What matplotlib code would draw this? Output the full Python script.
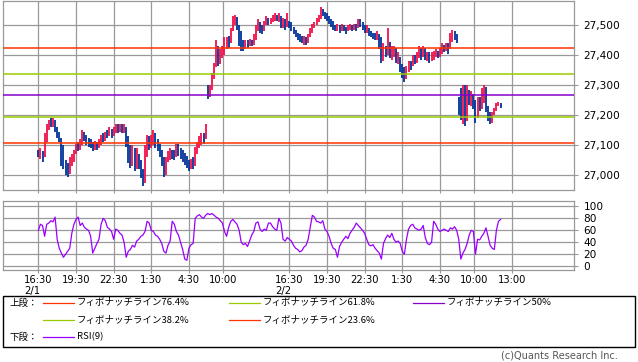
import numpy as np
import matplotlib.pyplot as plt
from matplotlib.lines import Line2D
from matplotlib.patches import Rectangle

# 10-minute bars, one list per trading session
# night 2/1 16:30-6:00, day 8:45-15:15, night 2/2 16:30-6:00, day 8:45-
close_n1 = [27070, 27080, 27060, 27110, 27150, 27175, 27170, 27185, 27160, 27140,
            27125, 27100, 27040, 27020, 27005, 27035, 27060, 27075, 27095, 27090,
            27105, 27140, 27130, 27115, 27110, 27100, 27090, 27105, 27095, 27110,
            27130, 27120, 27140, 27135, 27150, 27140, 27145, 27160, 27150, 27165,
            27155, 27160, 27130, 27080, 27050, 27090, 27020, 27060, 27050, 27010,
            26975, 27070, 27120, 27100, 27110, 27130, 27110, 27100, 27080, 27045,
            27005, 27050, 27060, 27075, 27070, 27065, 27095, 27080, 27070, 27060,
            27050, 27040, 27025, 27040, 27035, 27080, 27095, 27110, 27125, 27120,
            27165]
high_n1 = [27085, 27090, 27080, 27140, 27170, 27185, 27190, 27190, 27180, 27160,
           27145, 27125, 27080, 27050, 27040, 27060, 27070, 27085, 27105, 27110,
           27120, 27150, 27145, 27135, 27125, 27120, 27110, 27115, 27110, 27120,
           27135, 27140, 27145, 27150, 27160, 27155, 27160, 27170, 27170, 27170,
           27170, 27170, 27150, 27120, 27100, 27100, 27080, 27090, 27070, 27050,
           27020, 27100, 27135, 27130, 27135, 27150, 27140, 27120, 27105, 27085,
           27060, 27060, 27080, 27090, 27085, 27085, 27105, 27105, 27090, 27085,
           27075, 27065, 27050, 27055, 27060, 27095, 27110, 27130, 27140, 27140,
           27170]
low_n1 = [27060, 27055, 27045, 27060, 27110, 27150, 27160, 27160, 27145, 27125,
          27110, 27030, 27020, 27000, 26995, 27005, 27030, 27045, 27070, 27080,
          27085, 27100, 27115, 27100, 27095, 27090, 27080, 27085, 27085, 27090,
          27100, 27110, 27115, 27125, 27130, 27125, 27130, 27140, 27140, 27145,
          27140, 27140, 27094, 27040, 27025, 27030, 27015, 27030, 27020, 26990,
          26965, 26990, 27060, 27085, 27090, 27100, 27090, 27080, 27060, 27030,
          26995, 27000, 27045, 27050, 27055, 27050, 27060, 27065, 27055, 27045,
          27035, 27025, 27015, 27020, 27020, 27030, 27070, 27090, 27100, 27105,
          27120]

close_d1 = [27265, 27290, 27330, 27370, 27410, 27370, 27400, 27400, 27430, 27445,
            27440, 27480, 27510, 27525, 27500, 27480, 27440, 27425, 27440, 27435,
            27445, 27440, 27450, 27490, 27510, 27490, 27480, 27500, 27520, 27510,
            27515, 27525, 27530, 27525, 27530, 27500, 27520, 27495, 27510]
high_d1 = [27300, 27300, 27340, 27375, 27450, 27430, 27420, 27430, 27460, 27460,
           27465, 27490, 27530, 27535, 27528, 27500, 27470, 27450, 27450, 27450,
           27455, 27450, 27470, 27500, 27520, 27510, 27500, 27515, 27530, 27525,
           27525, 27535, 27540, 27535, 27540, 27525, 27525, 27515, 27540]
low_d1 = [27255, 27260, 27285, 27320, 27360, 27365, 27370, 27390, 27415, 27420,
          27425, 27440, 27485, 27500, 27483, 27430, 27415, 27415, 27420, 27425,
          27430, 27430, 27435, 27450, 27480, 27475, 27470, 27485, 27500, 27500,
          27505, 27510, 27515, 27515, 27510, 27490, 27490, 27485, 27500]

close_n2 = [27500, 27490, 27480, 27470, 27460, 27455, 27445, 27450, 27440, 27460,
            27480, 27495, 27500, 27515, 27525, 27550, 27540, 27530, 27525, 27520,
            27510, 27495, 27490, 27495, 27485, 27495, 27490, 27480, 27490, 27495,
            27485, 27495, 27490, 27510, 27505, 27495, 27480, 27490, 27475, 27470,
            27465, 27460, 27470, 27455, 27390, 27420, 27410, 27440, 27400, 27415,
            27425, 27380, 27395, 27360, 27340, 27320, 27350, 27370, 27365, 27390,
            27380, 27395, 27410, 27405, 27420, 27395, 27400, 27385, 27395, 27400,
            27410, 27400, 27415, 27425, 27420, 27430, 27420, 27460, 27475, 27465,
            27450]
high_n2 = [27515, 27510, 27495, 27485, 27475, 27470, 27465, 27465, 27460, 27470,
           27490, 27505, 27510, 27525, 27535, 27560, 27555, 27545, 27540, 27530,
           27520, 27515, 27500, 27505, 27500, 27505, 27500, 27495, 27500, 27505,
           27500, 27505, 27505, 27520, 27520, 27510, 27500, 27500, 27490, 27480,
           27475, 27475, 27480, 27470, 27460, 27440, 27430, 27490, 27445, 27430,
           27430, 27425, 27410, 27395, 27370, 27360, 27365, 27380, 27380, 27400,
           27400, 27410, 27430, 27425, 27430, 27425, 27410, 27410, 27410, 27415,
           27420, 27415, 27425, 27440, 27435, 27440, 27440, 27475, 27485, 27480,
           27470]
low_n2 = [27490, 27480, 27470, 27460, 27450, 27445, 27440, 27435, 27435, 27440,
          27460, 27475, 27490, 27500, 27510, 27520, 27530, 27520, 27515, 27505,
          27495, 27485, 27480, 27480, 27475, 27480, 27480, 27470, 27480, 27485,
          27480, 27485, 27480, 27490, 27495, 27485, 27475, 27475, 27465, 27460,
          27455, 27450, 27450, 27420, 27375, 27380, 27395, 27400, 27390, 27385,
          27395, 27375, 27370, 27345, 27325, 27310, 27320, 27345, 27350, 27365,
          27370, 27375, 27390, 27385, 27395, 27385, 27380, 27375, 27380, 27385,
          27395, 27390, 27395, 27405, 27410, 27415, 27405, 27425, 27445, 27450,
          27440]

close_d2 = [27230, 27200, 27290, 27180, 27285, 27245, 27260, 27240, 27190, 27240,
            27220, 27250, 27295, 27220, 27190, 27175, 27200, 27215, 27235, 27240,
            27230]
high_d2 = [27260, 27290, 27300, 27300, 27300, 27285, 27280, 27270, 27250, 27260,
           27260, 27290, 27300, 27290, 27230, 27210, 27210, 27225, 27240, 27245,
           27240]
low_d2 = [27200, 27185, 27170, 27165, 27200, 27235, 27230, 27220, 27175, 27215,
          27215, 27230, 27240, 27210, 27180, 27170, 27180, 27200, 27225, 27230,
          27225]
session_open = [27075, 27300, 27510, 27250]

rsi_n1 = [60, 70, 68, 50, 70, 72, 76, 74, 82, 45,
          30, 22, 15, 20, 25, 30, 55, 70, 78, 82,
          68, 72, 65, 62, 60, 50, 22, 30, 38, 45,
          70, 80, 76, 65, 62, 58, 45, 62, 60, 55,
          52, 40, 15, 25, 28, 35, 32, 42, 45, 50,
          52, 58, 75, 72, 60, 58, 52, 50, 45, 38,
          25, 22, 35, 42, 75, 70, 58, 52, 40, 28,
          12, 10, 30, 36, 38, 80, 84, 86, 82, 80,
          85]
rsi_d1 = [88, 86, 88, 85, 82, 80, 76, 72, 58, 50,
          65, 75, 78, 74, 70, 60, 40, 36, 38, 33,
          42, 52, 58, 72, 74, 62, 58, 62, 60, 72,
          72, 66, 62, 60, 80, 72, 45, 42, 48]
rsi_n2 = [45, 42, 35, 30, 28, 24, 26, 32, 35, 45,
          65, 85, 82, 75, 74, 72, 76, 62, 58, 50,
          38, 30, 28, 15, 33, 40, 45, 50, 46, 55,
          60, 65, 72, 68, 64, 60, 55, 45, 36, 34,
          36, 30, 26, 22, 12, 38, 46, 52, 48, 55,
          45, 40, 42, 38, 25, 20, 45, 62, 68, 70,
          64, 62, 60, 62, 68, 48, 38, 36, 40, 75,
          70, 62, 58, 60, 62, 60, 58, 64, 62, 66,
          60]
rsi_d2 = [45, 12, 22, 28, 38, 52, 60, 58, 20, 45,
          44, 50, 55, 64, 50, 35, 30, 28, 60, 75,
          78]

fib_names = ['フィボナッチライン76.4%', 'フィボナッチライン61.8%', 'フィボナッチライン50%',
             'フィボナッチライン38.2%', 'フィボナッチライン23.6%']
fib_levels = [27422, 27336, 27266, 27193, 27106]
fib_colors = ['#ff3300', '#99cc00', '#8800cc', '#99cc00', '#ff3300']

tick_bars = [0, 18, 36, 54, 72, 88.5, 120, 138, 156, 174, 192, 208.5, 226.5]
tick_labels = ['16:30\n2/1', '19:30', '22:30', '1:30', '4:30', '10:00',
               '16:30\n2/2', '19:30', '22:30', '1:30', '4:30', '10:00', '13:00']

UP = '#f0104a'
DOWN = '#003399'
GRID = '#999999'
JP = ['Noto Sans CJK JP', 'DejaVu Sans']

sessions = [close_n1, close_d1, close_n2, close_d2]
closes = np.concatenate([np.array(s, float) for s in sessions])
opens = np.concatenate([np.r_[o, s[:-1]] for o, s in zip(session_open, sessions)])
highs = np.concatenate([high_n1, high_d1, high_n2, high_d2]).astype(float)
lows = np.concatenate([low_n1, low_d1, low_n2, low_d2]).astype(float)
rsi = np.concatenate([rsi_n1, rsi_d1, rsi_n2, rsi_d2]).astype(float)
x = np.arange(len(closes))

W, H = 638, 362
fig = plt.figure(figsize=(W / 100, H / 100), dpi=100)


def box(l, t, r, b):
    return [l / W, 1 - b / H, (r - l) / W, (b - t) / H]


ax = fig.add_axes(box(3, 1, 574, 190))
ax2 = fig.add_axes(box(3, 201, 574, 270))

# candles: at this scale each bar is just a low-high stroke in up/down colour
lo = np.minimum(lows, np.minimum(opens, closes))
hi = np.maximum(highs, np.maximum(opens, closes))
up = closes >= opens
ax.vlines(x[up], lo[up], hi[up], color=UP, lw=1.3, zorder=3)
ax.vlines(x[~up], lo[~up], hi[~up], color=DOWN, lw=1.3, zorder=3)

for lev, c in zip(fib_levels, fib_colors):
    ax.axhline(lev, color=c, lw=1.1, zorder=4)

ax.set_ylim(26950, 27580)
ax.set_yticks(np.arange(27000, 27501, 100))
ax.set_yticklabels(['{:,}'.format(v) for v in range(27000, 27501, 100)])

ax2.plot(x, rsi, color='#9900ff', lw=0.9, zorder=3)
ax2.set_ylim(-6.2, 108.8)
ax2.set_yticks(range(0, 101, 20))

for a in (ax, ax2):
    a.set_xlim(-16.9, 256.1)
    a.set_xticks(tick_bars)
    a.yaxis.tick_right()
    a.grid(True, color=GRID, lw=0.9)
    a.set_axisbelow(True)
    for s in a.spines.values():
        s.set_color(GRID)
        s.set_linewidth(0.9)
    a.tick_params(axis='y', length=3, color=GRID, pad=4, labelsize=7.6)
    a.tick_params(axis='x', length=2, color=GRID, pad=1.5, labelsize=7.2)

ax.set_xticklabels([])
ax2.set_xticklabels(tick_labels)
for t in ax2.get_xticklabels():
    t.set_multialignment('left')

# legend box
fig.patches.append(Rectangle((3 / W, 1 - 347 / H), 632 / W, 51 / H,
                             transform=fig.transFigure, fill=False,
                             edgecolor='black', lw=1))

rows = [303, 303, 303, 320, 320]
cols = [43, 229, 413, 43, 229]
for name, c, r, cl in zip(fib_names, fib_colors, rows, cols):
    fig.lines.append(Line2D([cl / W, (cl + 31) / W], [1 - r / H] * 2,
                            transform=fig.transFigure, color=c, lw=0.9))
    fig.text((cl + 34) / W, 1 - r / H, name, family=JP, fontsize=6.8, va='center')
fig.lines.append(Line2D([43 / W, 74 / W], [1 - 337 / H] * 2,
                        transform=fig.transFigure, color='#9900ff', lw=0.9))
fig.text(77 / W, 1 - 337 / H, 'RSI(9)', family=JP, fontsize=6.8, va='center')
fig.text(10 / W, 1 - 303 / H, '上段：', family=JP, fontsize=6.8, va='center')
fig.text(10 / W, 1 - 337 / H, '下段：', family=JP, fontsize=6.8, va='center')

fig.text(618 / W, 1 - 356 / H, '(c)Quants Research Inc.', fontsize=7,
         color='#555555', ha='right', va='center')

fig.savefig('out.png', dpi=100)
